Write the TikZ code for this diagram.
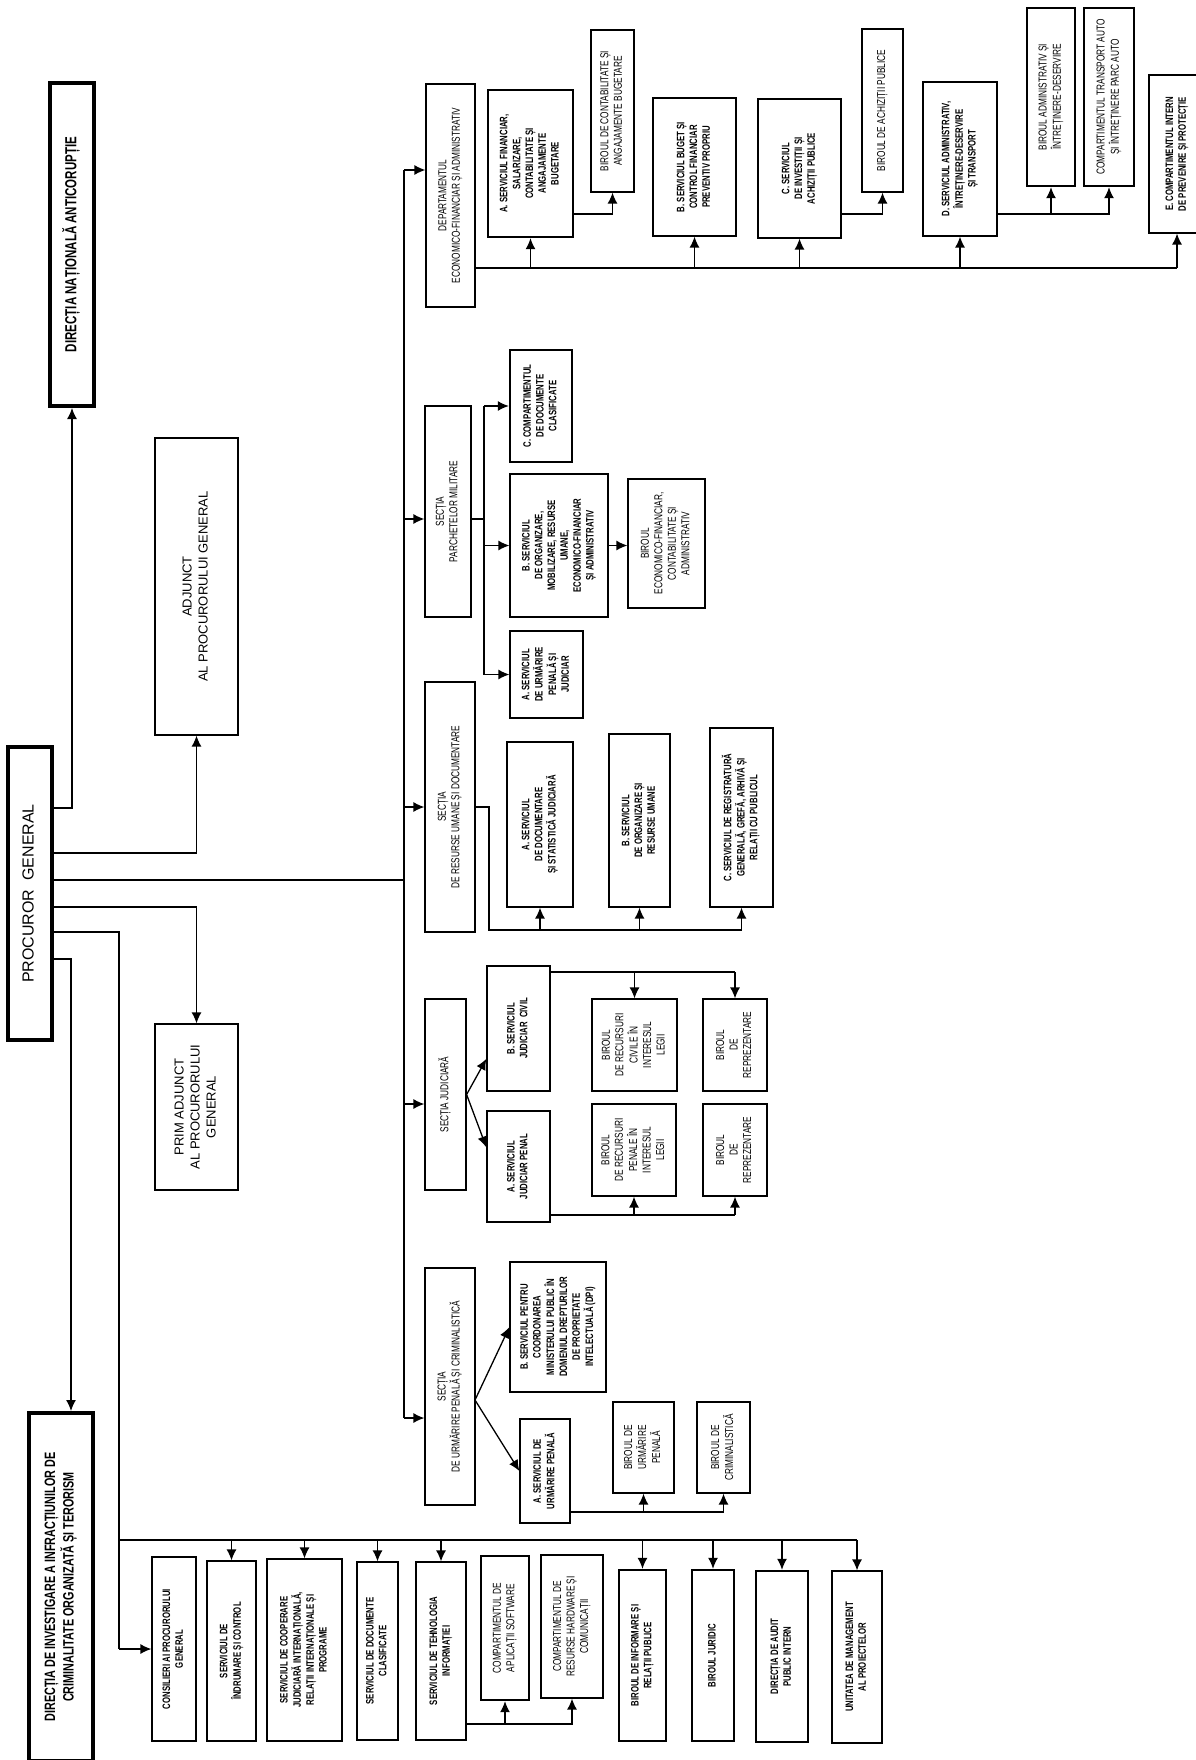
\documentclass[tikz,border=0pt]{standalone}
\usepackage{fontspec}
\setmainfont{Liberation Sans}
\newfontfamily\cnd{Liberation Sans}[FakeStretch=0.72]
\usepackage{graphicx}
\usetikzlibrary{positioning,arrows.meta,calc}

\newcommand{\vt}[1]{\rotatebox{90}{\begin{tabular}{@{}c@{}}#1\end{tabular}}}

\tikzset{
  box/.style={draw, line width=1.2pt, inner sep=1pt, font={\cnd\fontsize{11.5}{13.5}\selectfont}},
  bbox/.style={box, font={\cnd\bfseries\fontsize{10.8}{12.8}\selectfont}},
  sz/.style 2 args={minimum width=#1pt, minimum height=#2pt},
  thk/.style={line width=2.4pt},
  heavy/.style={line width=4pt},
  link/.style={line width=1.3pt},
  bus/.style={line width=2pt},
  arr/.style={link, -{Latex[length=11pt,width=10pt]}},
}

\begin{document}
\begin{tikzpicture}[x=1pt,y=-1pt]
\useasboundingbox (0,0) rectangle (1195,1760);

% top level
\node[bbox, heavy, sz={44}{323}, font={\cnd\bfseries\fontsize{16}{18}\selectfont}] (dna) at (72,244.5) {\vt{DIRECȚIA NAȚIONALĂ ANTICORUPȚIE}};
\node[box, heavy, sz={44}{293}, font={\fontsize{16}{18}\selectfont}] (pg) at (30,893.5) {\vt{PROCUROR\ \ GENERAL}};
\node[box, sz={83}{297}, font={\fontsize{13}{16}\selectfont}] (adj) at (196.5,586.5) {\vt{ADJUNCT\\AL PROCURORULUI GENERAL}};
\node[box, sz={83}{166}, font={\fontsize{13}{16}\selectfont}] (prim) at (196.5,1107) {\vt{PRIM ADJUNCT\\AL PROCURORULUI\\GENERAL}};
\node[bbox, heavy, sz={64}{348}, font={\cnd\bfseries\fontsize{15}{17}\selectfont}] (diicot) at (61,1587) {\vt{DIRECȚIA DE INVESTIGARE A INFRACȚIUNILOR DE\\CRIMINALITATE ORGANIZATĂ ȘI TERORISM}};

% sections
\node[box, sz={49}{223}] (dep) at (450.5,195.5) {\vt{DEPARTAMENTUL\\ECONOMICO-FINANCIAR ȘI ADMINISTRATIV}};
\node[box, sz={46}{211}] (spm) at (448,511.5) {\vt{SECȚIA\\PARCHETELOR MILITARE}};
\node[box, sz={50}{250}] (sru) at (450,807) {\vt{SECȚIA\\DE RESURSE UMANE ȘI DOCUMENTARE}};
\node[box, sz={41}{191}] (sj) at (445.5,1094.5) {\vt{SECȚIA JUDICIARĂ}};
\node[box, sz={50}{237}] (sup) at (450,1386.5) {\vt{SECȚIA\\DE URMĂRIRE PENALĂ ȘI CRIMINALISTICĂ}};

% departament
\node[bbox, thk, sz={85}{147}] (depA) at (530.5,163.5) {\vt{A. SERVICIUL FINANCIAR,\\SALARIZARE,\\CONTABILITATE ȘI\\ANGAJAMENTE\\BUGETARE}};
\node[box, sz={43}{162}] (birCont) at (612.5,111) {\vt{BIROUL DE CONTABILITATE ȘI\\ANGAJAMENTE BUGETARE}};
\node[bbox, sz={83}{138}] (depB) at (694.5,167) {\vt{B. SERVICIUL BUGET ȘI\\CONTROL FINANCIAR\\PREVENTIV PROPRIU}};
\node[bbox, sz={83}{139}] (depC) at (799.5,168.5) {\vt{C. SERVICIUL\\DE INVESTIȚII ȘI\\ACHIZIȚII PUBLICE}};
\node[box, sz={41}{163}] (birAch) at (882.5,110.5) {\vt{BIROUL DE ACHIZIȚII PUBLICE}};
\node[bbox, sz={74}{154}] (depD) at (960,159) {\vt{D. SERVICIUL ADMINISTRATIV,\\ÎNTREȚINERE-DESERVIRE\\ȘI TRANSPORT}};
\node[box, thk, sz={48}{178}] (birAdm) at (1051,97) {\vt{BIROUL ADMINISTRATIV ȘI\\ÎNTREȚINERE-DESERVIRE}};
\node[box, thk, sz={50}{178}] (compTr) at (1109,97) {\vt{COMPARTIMENTUL TRANSPORT AUTO\\ȘI ÎNTREȚINERE PARC AUTO}};
\node[bbox, sz={56}{158}] (depE) at (1177,154) {\vt{E. COMPARTIMENTUL INTERN\\DE PREVENIRE ȘI PROTECȚIE}};

% parchete militare
\node[bbox, thk, sz={62}{112}] (spmC) at (541,406) {\vt{C. COMPARTIMENTUL\\DE DOCUMENTE\\CLASIFICATE}};
\node[bbox, sz={98}{143}] (spmB) at (559,545.5) {\vt{B. SERVICIUL\\DE ORGANIZARE,\\MOBILIZARE, RESURSE\\UMANE,\\ECONOMICO-FINANCIAR\\ȘI ADMINISTRATIV}};
\node[bbox, sz={73}{87}] (spmA) at (546.5,674.5) {\vt{A. SERVICIUL\\DE URMĂRIRE\\PENALĂ ȘI\\JUDICIAR}};
\node[box, sz={77}{129}] (spmBir) at (666.5,543.5) {\vt{BIROUL\\ECONOMICO-FINANCIAR,\\CONTABILITATE ȘI\\ADMINISTRATIV}};

% resurse umane
\node[bbox, sz={66}{165}] (sruA) at (540,824.5) {\vt{A. SERVICIUL\\DE DOCUMENTARE\\ȘI STATISTICĂ JUDICIARĂ}};
\node[bbox, sz={61}{173}] (sruB) at (639.5,820.5) {\vt{B. SERVICIUL\\DE ORGANIZARE ȘI\\RESURSE UMANE}};
\node[bbox, sz={63}{179}] (sruC) at (741.5,817.5) {\vt{C. SERVICIUL DE REGISTRATURĂ\\GENERALĂ, GREFĂ, ARHIVĂ ȘI\\RELAȚII CU PUBLICUL}};

% judiciara
\node[bbox, sz={63}{125}] (sjB) at (518.5,1028.5) {\vt{B. SERVICIUL\\JUDICIAR\ \ CIVIL}};
\node[bbox, sz={63}{111}] (sjA) at (518.5,1166.5) {\vt{A. SERVICIUL\\JUDICIAR PENAL}};
\node[box, sz={85}{92}] (sjBir1) at (634.5,1045) {\vt{BIROUL\\DE RECURSURI\\CIVILE ÎN\\INTERESUL\\LEGII}};
\node[box, sz={64}{92}] (sjRep1) at (735,1045) {\vt{BIROUL\\DE\\REPREZENTARE}};
\node[box, sz={84}{92}] (sjBir2) at (634,1150) {\vt{BIROUL\\DE RECURSURI\\PENALE ÎN\\INTERESUL\\LEGII}};
\node[box, sz={64}{92}] (sjRep2) at (735,1150) {\vt{BIROUL\\DE\\REPREZENTARE}};

% urmarire penala
\node[bbox, sz={96}{130}] (supB) at (558,1327) {\vt{B. SERVICIUL PENTRU\\COORDONAREA\\MINISTERULUI PUBLIC ÎN\\DOMENIUL DREPTURILOR\\DE PROPRIETATE\\INTELECTUALĂ (DPI)}};
\node[bbox, sz={50}{104}] (supA) at (545,1471) {\vt{A. SERVICIUL DE\\URMĂRIRE PENALĂ}};
\node[box, sz={61}{91}] (supBir1) at (643.5,1447.5) {\vt{BIROUL DE\\URMĂRIRE\\PENALĂ}};
\node[box, sz={53}{91}] (supBir2) at (723.5,1447.5) {\vt{BIROUL DE\\CRIMINALISTICĂ}};

% aparat propriu
\node[bbox, sz={44}{184}] (cons) at (174,1649) {\vt{CONSILIERI AI PROCURORULUI\\GENERAL}};
\node[bbox, sz={49}{180}] (srvInd) at (231.5,1651) {\vt{SERVICIUL DE\\ÎNDRUMARE ȘI CONTROL}};
\node[bbox, sz={75}{182}] (srvCoop) at (304.5,1650) {\vt{SERVICIUL DE COOPERARE\\JUDICIARĂ INTERNAȚIONALĂ,\\RELAȚII INTERNAȚIONALE ȘI\\PROGRAME}};
\node[bbox, sz={41}{178}] (srvDoc) at (377.5,1651) {\vt{SERVICIUL DE DOCUMENTE\\CLASIFICATE}};
\node[bbox, sz={50}{178}] (srvTI) at (441,1651) {\vt{SERVICIUL DE TEHNOLOGIA\\INFORMAȚIEI}};
\node[box, thk, sz={48}{144}] (compSw) at (505,1628) {\vt{COMPARTIMENTUL DE\\APLICAȚII SOFTWARE}};
\node[box, sz={62}{143}] (compHw) at (572,1626.5) {\vt{COMPARTIMENTUL DE\\RESURSE HARDWARE ȘI\\COMUNICAȚII}};
\node[bbox, thk, sz={47}{171}] (birInf) at (642.5,1655.5) {\vt{BIROUL DE INFORMARE ȘI\\RELAȚII PUBLICE}};
\node[bbox, thk, sz={42}{171}] (birJur) at (713,1655.5) {\vt{BIROUL JURIDIC}};
\node[bbox, thk, sz={52}{171}] (dirAud) at (782,1656.5) {\vt{DIRECȚIA DE AUDIT\\PUBLIC INTERN}};
\node[bbox, sz={50}{172}] (umP) at (857,1657) {\vt{UNITATEA DE MANAGEMENT\\AL PROIECTELOR}};

% procuror general
\coordinate (pDna) at (71,808);
\coordinate (pAdj) at (197,853);
\coordinate (tPg) at (404,880);
\coordinate (pPrim) at (197,907);
\coordinate (pStaff) at (119,932);
\coordinate (pDiicot) at (71,959);
\draw[arr] (pg.east |- pDna) -| (dna.south);
\draw[arr] (pg.east |- pAdj) -| (adj.south);
\draw[link] (pg.east |- tPg) -- (tPg);
\draw[arr] (pg.east |- pPrim) -| (prim.north);
\draw[arr] (pg.east |- pDiicot) -- (pDiicot) -- (pDiicot |- diicot.north);

% trunk to sections
\coordinate (t1) at (404,170);
\coordinate (t2) at (404,519);
\coordinate (t3) at (404,807);
\coordinate (t4) at (404,1104);
\coordinate (t5) at (404,1418);
\draw[link] (t1) -- (t5);
\draw[arr] (t1) -- (t1 -| dep.west);
\draw[arr] (t2) -- (t2 -| spm.west);
\draw[arr] (t3) -- (t3 -| sru.west);
\draw[arr] (t4) -- (t4 -| sj.west);
\draw[arr] (t5) -- (t5 -| sup.west);

% departament
\coordinate (dBus) at (0,268);
\coordinate (aLine) at (0,214);
\draw[bus] (dep.east |- dBus) -- (dBus -| depE.south);
\foreach \n in {depA,depB,depC,depD,depE}
  \draw[arr] (dBus -| \n.south) -- (\n.south);
\draw[arr] (depA.east |- aLine) -| (birCont.south);
\draw[arr] (depC.east |- aLine) -| (birAch.south);
\draw[arr] (depD.east |- aLine) -| (compTr.south);
\draw[arr] (birAdm.south |- aLine) -- (birAdm.south);

% parchete militare
\coordinate (mX) at (484,519);
\draw[link] (spm.east |- mX) -- (mX);
\draw[link] (mX |- spmC.west) -- (mX |- spmA.west);
\draw[arr] (mX |- spmC.west) -- (spmC.west);
\draw[arr] (mX |- spmB.west) -- (spmB.west);
\draw[arr] (mX |- spmA.west) -- (spmA.west);
\draw[arr] (spmB.east) -- (spmBir.west |- spmB.east);

% resurse umane
\coordinate (rX) at (489,930);
\draw[link] (sru.east) -| (rX) -- (rX -| sruC.south);
\foreach \n in {sruA,sruB,sruC}
  \draw[arr] (rX -| \n.south) -- (\n.south);

% judiciara
\draw[arr] (sj.east) -- ($(sjB.south west)!0.26!(sjB.north west)$);
\draw[arr] (sj.east) -- ($(sjA.north west)!0.33!(sjA.south west)$);
\coordinate (jTop) at (0,972);
\coordinate (jBot) at (0,1215);
\draw[link] (sjB.east |- jTop) -- (jTop -| sjRep1.north);
\draw[arr] (jTop -| sjBir1.north) -- (sjBir1.north);
\draw[arr] (jTop -| sjRep1.north) -- (sjRep1.north);
\draw[link] (sjA.east |- jBot) -- (jBot -| sjRep2.south);
\draw[arr] (jBot -| sjBir2.south) -- (sjBir2.south);
\draw[arr] (jBot -| sjRep2.south) -- (sjRep2.south);

% urmarire penala
\coordinate (uFork) at (475,1400);
\draw[arr] (uFork) -- (supB.west);
\draw[arr] (uFork) -- (supA.west);
\coordinate (uLine) at (0,1512);
\draw[link] (supA.east |- uLine) -- (uLine -| supBir2.south);
\draw[arr] (uLine -| supBir1.south) -- (supBir1.south);
\draw[arr] (uLine -| supBir2.south) -- (supBir2.south);

% aparat propriu
\coordinate (sBus) at (119,1540);
\coordinate (sCons) at (119,1649);
\draw[link] (pg.east |- pStaff) -| (sCons);
\draw[arr] (sCons) -- (cons.west);
\draw[bus] (sBus) -- (sBus -| umP.north);
\foreach \n in {srvInd,srvCoop,srvDoc,srvTI,birInf,birJur,dirAud,umP}
  \draw[arr] (sBus -| \n.north) -- (\n.north);
\coordinate (tiLine) at (0,1724);
\draw[arr] (srvTI.east |- tiLine) -| (compHw.south);
\draw[arr] (compSw.south |- tiLine) -- (compSw.south);
\end{tikzpicture}
\end{document}
